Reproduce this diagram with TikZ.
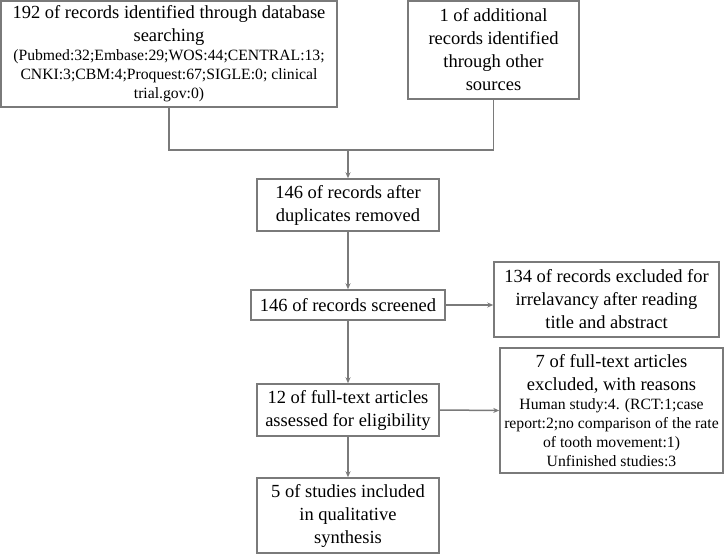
\documentclass[tikz,border=0pt]{standalone}
\usepackage{fontspec}
\setmainfont{Liberation Serif}
\newfontfamily\flowfont{Liberation Serif}
\definecolor{prLine}{HTML}{7A7A7A}
\usetikzlibrary{calc,positioning,arrows.meta}
\tikzset{
  flowbox/.style={draw=prLine, line width=1.5pt, fill=white, align=center, inner sep=0pt,
    font=\flowfont\fontsize{18.5}{23}\selectfont},
  link/.style={draw=prLine, line width=1.5pt},
  flowarrow/.style={link, -{Stealth[length=6pt,width=5pt]}}
}
\newcommand{\smalltxt}{\flowfont\fontsize{15.7}{19}\selectfont}

\begin{document}
\begin{tikzpicture}[x=1pt,y=-1pt]
  \useasboundingbox (0,0) rectangle (726,554);
  % Identification
  \node[flowbox, minimum width=336pt, minimum height=106pt] (dbsearch) at (169,54)
    {192 of records identified through database\\searching\\[-4pt]
     \smalltxt (Pubmed:32;Embase:29;WOS:44;CENTRAL:13;\\[-4pt]
     \smalltxt CNKI:3;CBM:4;Proquest:67;SIGLE:0; clinical\\[-4pt]
     \smalltxt trial.gov:0)};
  \node[flowbox, minimum width=171pt, minimum height=98pt] (othersrc) at (493.5,50)
    {1 of additional\\records identified\\through other\\sources};
  % Screening
  \node[flowbox, minimum width=182pt, minimum height=52pt] (dedup) at (348,205)
    {146 of records after\\duplicates removed};
  \node[flowbox, minimum width=194pt, minimum height=30pt] (screened) at (348,305)
    {146 of records screened};
  \node[flowbox, minimum width=225pt, minimum height=75pt] (excl) at (606.5,299.5)
    {134 of records excluded for\\irrelavancy after reading\\title and abstract};
  % Eligibility
  \node[flowbox, minimum width=182pt, minimum height=52pt] (fulltext) at (348,410)
    {12 of full-text articles\\assessed for eligibility};
  \node[flowbox, minimum width=223pt, minimum height=125pt] (ftexcl) at (611.5,410.5)
    {7 of full-text articles\\excluded, with reasons\\[-4pt]
     \smalltxt Human study:4. (RCT:1;case\\[-4pt]
     \smalltxt report:2;no comparison of the rate\\[-4pt]
     \smalltxt of tooth movement:1)\\[-4pt]
     \smalltxt Unfinished studies:3};
  % Included
  \node[flowbox, minimum width=182pt, minimum height=75pt] (included) at (348,515.5)
    {5 of studies included\\in qualitative\\synthesis};
  % Connectors
  \coordinate (merge) at (348,150);
  \draw[link] (dbsearch.south) -- (dbsearch.south |- merge) -- (othersrc.south |- merge) -- (othersrc.south);
  \draw[flowarrow] (merge) -- (dedup.north);
  \draw[flowarrow] (dedup.south) -- (screened.north);
  \draw[flowarrow] (screened.east) -- (screened.east -| excl.west);
  \draw[flowarrow] (screened.south) -- (fulltext.north);
  \draw[flowarrow] (fulltext.east) -- (ftexcl.west);
  \draw[flowarrow] (fulltext.south) -- (included.north);
\end{tikzpicture}
\end{document}
